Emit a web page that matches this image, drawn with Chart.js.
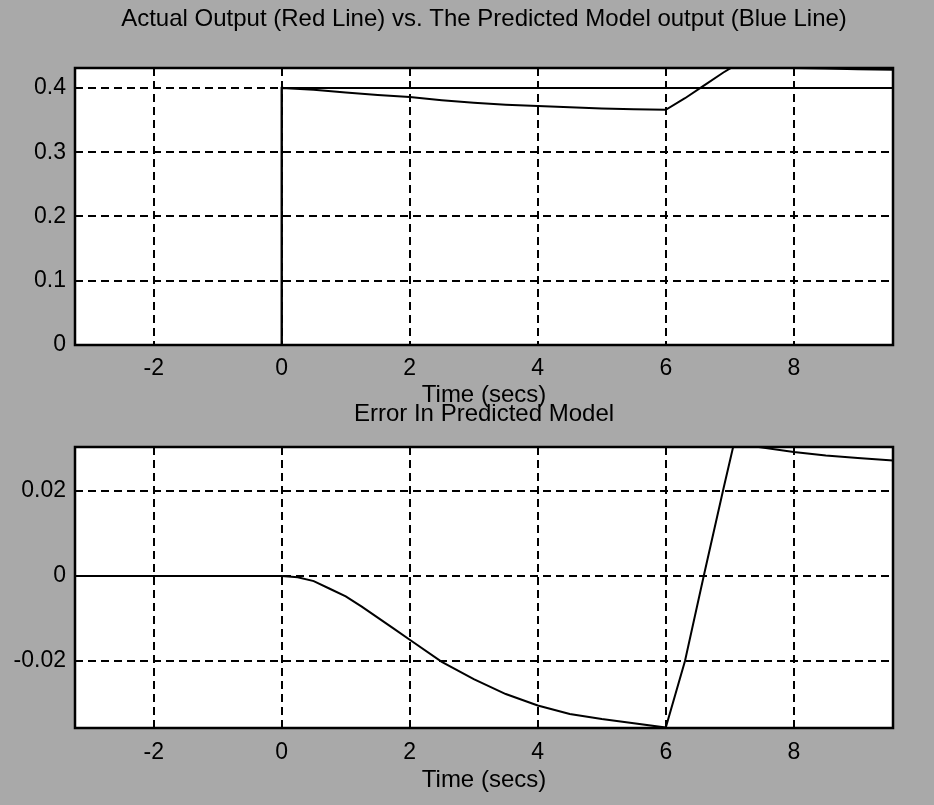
<!DOCTYPE html>
<html lang="en">
<head>
    <meta charset="UTF-8">
    <title>Actual vs Predicted Model</title>
    <script src="https://cdn.jsdelivr.net/npm/chart.js"></script>
    <style>
        body {
            margin: 0;
            background-color: #a9a9a9;
            width: 934px;
            height: 805px;
            position: relative;
            overflow: hidden;
        }
        canvas {
            position: absolute;
            left: 0;
        }
        #topChart { top: 0; }
        #errChart { top: 400px; }
    </style>
</head>
<body>
<canvas id="topChart" width="934" height="410"></canvas>
<canvas id="errChart" width="934" height="405"></canvas>

<script>
    // x axis (time in secs)
    const xMin = -3.23;
    const xMax = 9.55;
    const xTicks = [-2, 0, 2, 4, 6, 8];

    // top plot: actual output (step) and predicted model output
    const actualTime = [-3.23, 0, 0, 9.55];
    const actualOutput = [0, 0, 0.4, 0.4];
    const predTime = [-3.23, 0, 0, 0.5, 1, 1.5, 2, 2.5, 3, 3.5, 4, 4.5, 5, 5.5, 6, 6.3, 6.6, 6.9, 7.1, 7.4, 8, 8.5, 9, 9.55];
    const predOutput = [0, 0, 0.4, 0.397, 0.393, 0.389, 0.386, 0.381, 0.377, 0.374, 0.372, 0.370, 0.368, 0.367, 0.366, 0.384, 0.404, 0.424, 0.436, 0.4325, 0.431, 0.4302, 0.429, 0.4282];
    const topYTicks = [0, 0.1, 0.2, 0.3, 0.4];
    const topYLabels = ['0', '0.1', '0.2', '0.3', '0.4'];

    // bottom plot: error in predicted model
    const errTime = [-3.23, 0, 0.25, 0.5, 0.75, 1, 1.25, 1.5, 1.75, 2, 2.5, 3, 3.5, 4, 4.5, 5, 5.5, 6, 6.3, 6.6, 6.9, 7.1, 7.4, 8, 8.5, 9, 9.55];
    const errValue = [0, 0, -0.0003, -0.0012, -0.003, -0.0048, -0.0072, -0.0098, -0.0124, -0.015, -0.0202, -0.0243, -0.0278, -0.0305, -0.0325, -0.0337, -0.0347, -0.0357, -0.02, 0.0005, 0.0205, 0.0335, 0.0305, 0.0292, 0.0284, 0.0278, 0.0272];
    const errYTicks = [-0.02, 0, 0.02];
    const errYLabels = ['-0.02', '0', '0.02'];

    const FONT = 'Liberation Sans, Arial, sans-serif';

    function points(xs, ys) {
        return xs.map((x, i) => ({ x: x, y: ys[i] }));
    }

    // white plot box with a black frame
    const framePlugin = {
        id: 'frame',
        beforeDraw(chart) {
            const a = chart.chartArea, ctx = chart.ctx;
            ctx.save();
            ctx.fillStyle = '#ffffff';
            ctx.fillRect(a.left, a.top, a.right - a.left, a.bottom - a.top);
            ctx.restore();
        },
        afterDraw(chart) {
            const a = chart.chartArea, ctx = chart.ctx;
            ctx.save();
            ctx.strokeStyle = '#000';
            ctx.lineWidth = 2.5;
            ctx.strokeRect(a.left, a.top, a.right - a.left, a.bottom - a.top);
            ctx.restore();
        }
    };

    function lineSet(data) {
        return {
            data: data,
            borderColor: '#000',
            borderWidth: 2,
            pointRadius: 0,
            tension: 0,
            fill: false
        };
    }

    function makeChart(id, datasets, opts) {
        return new Chart(document.getElementById(id), {
            type: 'line',
            data: { datasets: datasets },
            plugins: [framePlugin],
            options: {
                responsive: false,
                animation: false,
                devicePixelRatio: 1,
                layout: { padding: { left: 0, right: 41, top: 0, bottom: 0 } },
                plugins: {
                    legend: { display: false },
                    tooltip: { enabled: false },
                    title: {
                        display: true,
                        fullSize: false,
                        text: opts.title,
                        color: '#000',
                        font: { family: FONT, size: 24, weight: 'normal' },
                        padding: opts.titlePad
                    }
                },
                scales: {
                    x: {
                        type: 'linear',
                        min: xMin,
                        max: xMax,
                        afterBuildTicks: s => { s.ticks = xTicks.map(v => ({ value: v })); },
                        afterFit: s => { s.height = opts.xHeight; },
                        ticks: {
                            color: '#000',
                            padding: opts.xTickPad,
                            font: { family: FONT, size: 23 },
                            maxRotation: 0,
                            callback: v => String(v)
                        },
                        grid: { color: '#000', lineWidth: 2, drawTicks: false },
                        border: { display: false, dash: [8, 5] },
                        title: {
                            display: true,
                            text: 'Time (secs)',
                            color: '#000',
                            font: { family: FONT, size: 24 },
                            padding: { top: 0, bottom: opts.xTitlePad }
                        }
                    },
                    y: {
                        min: opts.yMin,
                        max: opts.yMax,
                        afterBuildTicks: s => { s.ticks = opts.yTicks.map(v => ({ value: v })); },
                        afterFit: s => { s.width = 75; },
                        ticks: {
                            color: '#000',
                            padding: 9,
                            font: { family: FONT, size: 23 },
                            callback: (v, i) => opts.yLabels[i]
                        },
                        grid: { color: '#000', lineWidth: 2, drawTicks: false },
                        border: { display: false, dash: [8, 5] }
                    }
                }
            }
        });
    }

    makeChart('topChart', [
        lineSet(points(actualTime, actualOutput)),
        lineSet(points(predTime, predOutput))
    ], {
        title: 'Actual Output (Red Line) vs. The Predicted Model output (Blue Line)',
        titlePad: { top: 5, bottom: 34.2 },
        xHeight: 65,
        xTickPad: 10,
        xTitlePad: 0,
        yMin: 0,
        yMax: 0.431,
        yTicks: topYTicks,
        yLabels: topYLabels
    });

    makeChart('errChart', [
        lineSet(points(errTime, errValue))
    ], {
        title: 'Error In Predicted Model',
        titlePad: { top: 0, bottom: 18.2 },
        xHeight: 77,
        xTickPad: 11,
        xTitlePad: 10.6,
        yMin: -0.0358,
        yMax: 0.0304,
        yTicks: errYTicks,
        yLabels: errYLabels
    });
</script>
</body>
</html>
